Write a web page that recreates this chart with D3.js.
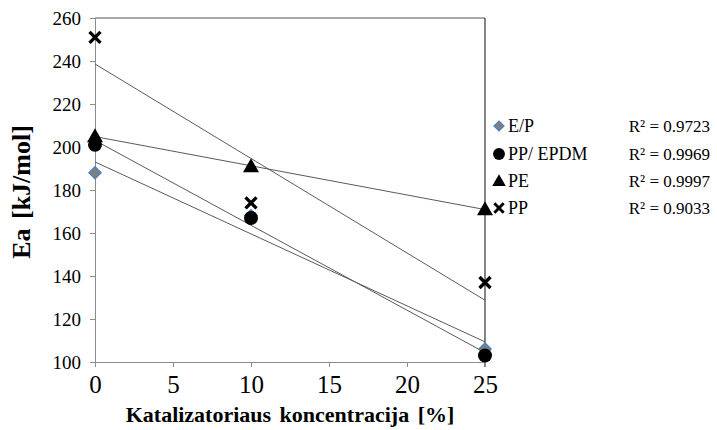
<!DOCTYPE html>
<html>
<head>
<meta charset="utf-8">
<script src="https://cdn.jsdelivr.net/npm/d3@7"></script>
<style>
  body { margin: 0; background: #fff; }
  svg text { font-family: "Liberation Serif", "Times New Roman", serif; fill: #000; }
</style>
</head>
<body>
<svg id="chart"></svg>
<script>
const concentrations = [0, 10, 25];
const seriesNames = ["E/P", "PP/ EPDM", "PE", "PP"];
const epValues = [188, 168, 106];
const ppEpdmValues = [201, 167, 103];
const peValues = [205, 191, 171];
const ppValues = [251, 174, 137];
const rSquaredLabels = ["R² = 0.9723", "R² = 0.9969", "R² = 0.9997", "R² = 0.9033"];
const xTicks = [0, 5, 10, 15, 20, 25];
const yTicks = [100, 120, 140, 160, 180, 200, 220, 240, 260];

const width = 717;
const height = 430;
const margin = { top: 18, right: 232, bottom: 68, left: 95 };

const svg = d3.select("#chart").attr("width", width).attr("height", height);

const x = d3.scaleLinear().domain([0, 25]).range([margin.left, width - margin.right]);
const y = d3.scaleLinear().domain([100, 260]).range([height - margin.bottom, margin.top]);

const series = [
  { name: seriesNames[0], values: epValues, shape: "diamond" },
  { name: seriesNames[1], values: ppEpdmValues, shape: "circle" },
  { name: seriesNames[2], values: peValues, shape: "triangle" },
  { name: seriesNames[3], values: ppValues, shape: "cross" },
];

// least squares trend line, like the spreadsheet did
function fit(values) {
  const mx = d3.mean(concentrations);
  const my = d3.mean(values);
  let sxy = 0, sxx = 0;
  concentrations.forEach((c, i) => {
    sxy += (c - mx) * (values[i] - my);
    sxx += (c - mx) * (c - mx);
  });
  const slope = sxy / sxx;
  return (c) => my + slope * (c - mx);
}

// frame: top and right
svg.append("line")
  .attr("x1", x(0)).attr("x2", x(25))
  .attr("y1", y(260)).attr("y2", y(260))
  .attr("stroke", "#8c8c8c").attr("stroke-width", 1.5);
svg.append("line")
  .attr("x1", x(25)).attr("x2", x(25))
  .attr("y1", y(260)).attr("y2", y(100) + 5)
  .attr("stroke", "#333").attr("stroke-width", 1.2);

// x axis
const xAxis = svg.append("g")
  .attr("transform", `translate(0,${y(100)})`)
  .call(d3.axisBottom(x).tickValues(xTicks).tickSize(5).tickPadding(6).tickFormat(d3.format("d")));
xAxis.attr("font-family", null).attr("font-size", null);
xAxis.select(".domain").attr("stroke", "#8c8c8c");
xAxis.selectAll(".tick line").attr("stroke", "#8c8c8c");
xAxis.selectAll("text").style("font-size", "25px").attr("dy", null).attr("y", 31);

// y axis
const yAxis = svg.append("g")
  .attr("transform", `translate(${x(0)},0)`)
  .call(d3.axisLeft(y).tickValues(yTicks).tickSize(5).tickPadding(9).tickFormat(d3.format("d")));
yAxis.attr("font-family", null).attr("font-size", null);
yAxis.select(".domain").attr("stroke", "#8c8c8c");
yAxis.selectAll(".tick line").attr("stroke", "#8c8c8c");
yAxis.selectAll("text").style("font-size", "19px");

// trend lines
series.forEach((s) => {
  const f = fit(s.values);
  svg.append("line")
    .attr("x1", x(0)).attr("y1", y(f(0)))
    .attr("x2", x(25)).attr("y2", y(f(25)))
    .attr("stroke", "#5a5a5a").attr("stroke-width", 1);
});

function drawMarker(g, shape, cx, cy, scale) {
  const k = scale || 1;
  if (shape === "diamond") {
    const s = 6 * k;
    g.append("path")
      .attr("d", `M${cx},${cy - s} L${cx + s},${cy} L${cx},${cy + s} L${cx - s},${cy}Z`)
      .attr("fill", "#7f7f7f").attr("stroke", "#4f81bd").attr("stroke-width", 1.5);
  } else if (shape === "circle") {
    g.append("circle").attr("cx", cx).attr("cy", cy).attr("r", 7 * k).attr("fill", "#000");
  } else if (shape === "triangle") {
    const s = 8 * k;
    g.append("path")
      .attr("d", `M${cx},${cy - s} L${cx + s},${cy + s * 0.75} L${cx - s},${cy + s * 0.75}Z`)
      .attr("fill", "#000");
  } else {
    const s = 5.5 * k;
    g.append("path")
      .attr("d", `M${cx - s},${cy - s} L${cx + s},${cy + s} M${cx + s},${cy - s} L${cx - s},${cy + s}`)
      .attr("stroke", "#000").attr("stroke-width", 3.4 * k).attr("fill", "none");
  }
}

// points
const points = svg.append("g");
series.forEach((s) => {
  s.values.forEach((v, i) => drawMarker(points, s.shape, x(concentrations[i]), y(v)));
});

// legend
const legend = svg.append("g");
const rowY = [126, 154, 181, 208];
series.forEach((s, i) => {
  drawMarker(legend, s.shape, 499, rowY[i], s.shape === "diamond" ? 0.8 : 0.85);
  legend.append("text")
    .attr("x", 508).attr("y", rowY[i] + 6)
    .style("font-size", "18px")
    .text(s.name);
  legend.append("text")
    .attr("x", 710).attr("y", rowY[i] + 6)
    .attr("text-anchor", "end")
    .style("font-size", "17px")
    .text(rSquaredLabels[i]);
});

// axis titles
svg.append("text")
  .attr("x", 290).attr("y", 422)
  .attr("text-anchor", "middle")
  .style("font-size", "22px").style("font-weight", "bold")
  .style("word-spacing", "3px")
  .text("Katalizatoriaus koncentracija [%]");

svg.append("text")
  .attr("transform", `translate(30,192) rotate(-90)`)
  .attr("text-anchor", "middle")
  .style("font-size", "26px").style("font-weight", "bold")
  .style("word-spacing", "3px")
  .text("Ea [kJ/mol]");
</script>
</body>
</html>
